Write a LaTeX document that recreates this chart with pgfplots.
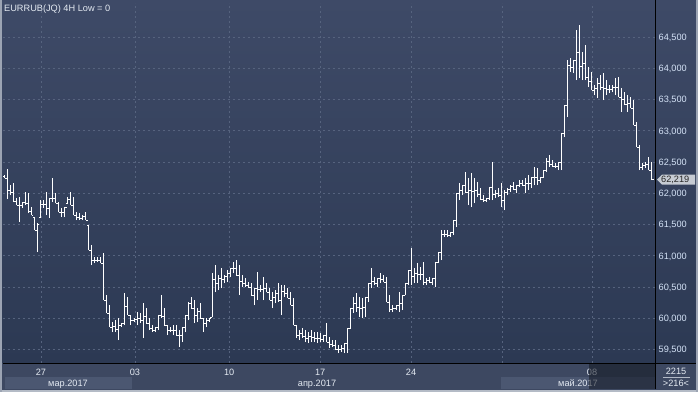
\documentclass[border=0pt]{standalone}
\usepackage{pgfplots}
\pgfplotsset{compat=1.18}
\usepackage{pgfplotstable}
\usepackage{fontspec}
\setmainfont{Liberation Sans}
\definecolor{bgtop}{HTML}{3E4A67}
\definecolor{bgbot}{HTML}{2C3953}
\definecolor{strip}{HTML}{3D4861}
\definecolor{stripbox}{HTML}{4B5771}
\definecolor{gridc}{HTML}{56637E}
\definecolor{ylab}{HTML}{D4E2F6}
\definecolor{xlab}{HTML}{E4EAF2}
\definecolor{framec}{HTML}{B4BBC6}
\definecolor{tagc}{HTML}{C6CBD3}

\pgfplotstableread{
h l o c
62.292 62.244 62.276 62.244
62.388 61.908 62.244 62.052
62.132 61.972 62.052 62.020
62.164 61.860 62.020 61.876
61.924 61.812 61.876 61.812
61.940 61.540 61.812 61.812
61.860 61.764 61.812 61.860
62.020 61.812 61.860 61.844
62.004 61.684 61.844 61.716
61.780 61.652 61.716 61.652
61.620 61.412 61.620 61.412
61.524 61.060 61.412 61.508
61.892 61.620 61.620 61.828
61.892 61.764 61.828 61.828
62.020 61.652 61.828 61.764
61.924 61.604 61.764 61.924
62.244 61.860 61.924 61.924
62.004 61.844 61.924 61.844
61.860 61.700 61.844 61.700
61.764 61.620 61.700 61.700
61.780 61.620 61.700 61.780
61.940 61.844 61.844 61.908
62.020 61.812 61.908 61.812
61.940 61.652 61.812 61.652
61.700 61.572 61.652 61.620
61.684 61.572 61.620 61.604
61.652 61.572 61.604 61.636
61.700 61.572 61.636 61.572
61.492 61.092 61.492 61.092
61.172 60.852 61.092 60.932
60.980 60.884 60.932 60.932
60.980 60.900 60.932 60.932
60.980 60.884 60.932 60.884
61.044 60.292 60.884 60.292
60.372 60.084 60.292 60.084
60.212 59.860 60.084 59.860
59.940 59.780 59.860 59.876
59.972 59.780 59.876 59.828
60.004 59.652 59.828 59.892
59.924 59.860 59.892 59.924
60.404 59.892 59.924 60.196
60.340 60.052 60.196 60.052
60.052 59.892 60.052 59.972
60.004 59.940 59.972 59.988
60.100 59.892 59.988 60.004
60.084 59.924 60.004 59.972
60.244 59.684 59.972 60.036
60.164 59.924 60.036 59.924
60.004 59.812 59.924 59.844
59.892 59.780 59.844 59.812
59.860 59.780 59.812 59.860
60.052 59.812 59.860 60.052
60.372 60.004 60.052 60.036
60.164 59.892 60.036 59.892
59.892 59.732 59.892 59.812
59.860 59.780 59.812 59.812
59.892 59.732 59.812 59.812
59.892 59.732 59.812 59.732
59.812 59.540 59.732 59.732
59.860 59.620 59.732 59.860
60.052 59.780 59.860 60.052
60.260 59.972 60.052 60.244
60.340 60.164 60.244 60.164
60.292 59.924 60.164 60.052
60.164 59.940 60.052 60.116
60.244 60.004 60.116 60.004
60.004 59.780 60.004 59.924
60.004 59.860 59.924 59.972
60.004 59.940 59.972 60.004
60.724 60.020 60.020 60.628
60.852 60.420 60.628 60.564
60.692 60.452 60.564 60.644
60.804 60.484 60.644 60.628
60.692 60.564 60.628 60.676
60.772 60.580 60.676 60.724
60.804 60.660 60.724 60.804
60.900 60.724 60.804 60.804
60.932 60.692 60.804 60.692
60.852 60.372 60.692 60.596
60.692 60.500 60.596 60.564
60.644 60.500 60.564 60.532
60.580 60.500 60.532 60.500
60.564 60.372 60.500 60.372
60.484 60.212 60.372 60.484
60.740 60.292 60.484 60.468
60.532 60.420 60.468 60.468
60.660 60.292 60.468 60.484
60.564 60.420 60.484 60.420
60.484 60.292 60.420 60.292
60.420 60.164 60.292 60.340
60.452 60.244 60.340 60.404
60.564 60.260 60.404 60.292
60.532 60.052 60.292 60.436
60.532 60.340 60.436 60.404
60.484 60.324 60.404 60.324
60.420 60.212 60.324 60.212
60.324 59.892 60.212 59.892
59.892 59.684 59.892 59.732
59.812 59.652 59.732 59.764
59.844 59.684 59.764 59.716
59.812 59.620 59.716 59.684
59.780 59.604 59.684 59.716
59.812 59.620 59.716 59.700
59.780 59.620 59.700 59.684
59.780 59.604 59.684 59.684
59.764 59.620 59.684 59.668
59.732 59.620 59.668 59.732
59.924 59.620 59.732 59.620
59.700 59.524 59.620 59.588
59.652 59.540 59.588 59.572
59.652 59.492 59.572 59.508
59.572 59.444 59.508 59.508
59.572 59.460 59.508 59.524
59.604 59.444 59.524 59.604
59.844 59.444 59.604 59.844
60.164 59.844 59.844 60.164
60.340 60.084 60.164 60.244
60.404 60.100 60.244 60.180
60.340 60.020 60.180 60.164
60.324 60.004 60.164 60.180
60.340 60.020 60.180 60.340
60.564 60.260 60.340 60.564
60.804 60.484 60.564 60.596
60.660 60.532 60.596 60.564
60.644 60.500 60.564 60.644
60.724 60.564 60.644 60.628
60.692 60.580 60.628 60.580
60.660 60.260 60.580 60.260
60.372 60.100 60.260 60.148
60.212 60.100 60.148 60.164
60.212 60.132 60.164 60.212
60.420 60.100 60.212 60.244
60.372 60.132 60.244 60.372
60.564 60.372 60.372 60.564
60.772 60.532 60.564 60.772
61.124 60.532 60.772 60.676
60.804 60.564 60.676 60.724
60.884 60.564 60.724 60.708
60.820 60.612 60.708 60.708
60.900 60.532 60.708 60.580
60.644 60.532 60.580 60.612
60.660 60.564 60.612 60.580
60.644 60.532 60.580 60.644
60.900 60.500 60.644 60.900
61.060 60.884 60.900 61.060
61.412 60.932 61.060 61.348
61.412 61.300 61.348 61.348
61.412 61.300 61.348 61.332
61.380 61.300 61.332 61.380
61.572 61.332 61.380 61.572
62.004 61.460 61.572 62.004
62.164 61.892 62.004 62.052
62.132 61.972 62.052 62.132
62.340 62.004 62.132 62.020
62.244 61.812 62.020 62.052
62.324 61.780 62.052 62.036
62.244 61.844 62.036 62.052
62.180 61.940 62.052 61.988
62.084 61.892 61.988 61.908
61.972 61.860 61.908 61.892
61.924 61.860 61.892 61.924
62.100 61.892 61.924 62.100
62.500 61.892 62.100 61.988
62.052 61.924 61.988 62.004
62.084 61.940 62.004 61.972
62.164 61.780 61.972 61.892
62.052 61.732 61.892 62.020
62.084 61.972 62.020 62.068
62.132 62.020 62.068 62.116
62.180 62.052 62.116 62.068
62.132 62.004 62.068 62.132
62.212 62.100 62.132 62.164
62.212 62.132 62.164 62.132
62.244 62.004 62.132 62.164
62.292 62.052 62.164 62.164
62.260 62.084 62.164 62.260
62.420 62.132 62.260 62.260
62.404 62.132 62.260 62.212
62.260 62.164 62.212 62.260
62.372 62.260 62.260 62.372
62.564 62.340 62.372 62.516
62.612 62.420 62.516 62.468
62.532 62.420 62.468 62.436
62.484 62.404 62.436 62.436
62.500 62.372 62.436 62.500
62.964 62.372 62.500 62.964
63.412 62.900 62.964 63.412
64.132 63.220 63.412 64.052
64.164 63.940 64.052 64.020
64.132 63.924 64.020 64.132
64.612 63.812 64.132 64.260
64.692 63.844 64.260 64.036
64.260 63.812 64.036 64.084
64.372 63.812 64.084 63.860
64.020 63.700 63.860 63.796
63.940 63.652 63.796 63.652
63.732 63.572 63.652 63.684
63.844 63.524 63.684 63.764
63.892 63.652 63.764 63.700
63.924 63.492 63.700 63.684
63.812 63.572 63.684 63.668
63.732 63.604 63.668 63.668
63.732 63.620 63.668 63.700
63.844 63.572 63.700 63.700
63.860 63.540 63.700 63.540
63.684 63.300 63.540 63.508
63.620 63.412 63.508 63.428
63.572 63.300 63.428 63.444
63.540 63.364 63.444 63.364
63.492 63.092 63.364 63.092
63.140 62.740 63.092 62.740
62.772 62.372 62.740 62.420
62.484 62.372 62.420 62.452
62.500 62.404 62.452 62.468
62.580 62.372 62.468 62.372
62.500 62.210 62.372 62.219
}\ohlc

\begin{document}
\fontsize{9.2}{11}\selectfont
\begin{tikzpicture}
\useasboundingbox (0pt,0pt) rectangle (698pt,392pt);
\shade[top color=bgtop, bottom color=bgbot] (0pt,29pt) rectangle (698pt,392pt);
\fill[strip] (0pt,0pt) rectangle (698pt,29pt);
\fill[stripbox] (5pt,3pt) rectangle (132pt,15pt);
\fill[stripbox] (501pt,3pt) rectangle (655pt,15pt);
\begin{axis}[
  at={(3pt,29pt)}, anchor=south west, scale only axis,
  width=652pt, height=360pt,
  xmin=-0.5, xmax=216, ymin=59.284, ymax=65.044,
  axis line style={draw=none},
  grid=major,
  major grid style={gridc, dash pattern=on 2pt off 3pt, line width=0.8pt},
  major tick length=0pt,
  xtick={12.1,43.3,74.6,104.8,135,165.2,195.1},
  xticklabels={27,03,10,17,24,,08},
  xticklabel style={text=xlab, anchor=base, yshift=-12.3pt, inner sep=0pt},
  ytick={59.5,60,60.5,61,61.5,62,62.5,63,63.5,64,64.5},
  yticklabel pos=right,
  yticklabel style={text=ylab, anchor=base west, inner sep=0pt, xshift=3.5pt, yshift=-3.3pt},
  /pgf/number format/.cd, fixed, fixed zerofill, precision=3, use comma, assume math mode=true,
]
\addplot[white, line width=1pt, mark=none, quiver={u=0, v=\thisrow{h}-\thisrow{l}}]
  table[x expr=\coordindex, y=l] {\ohlc};
\addplot[white, line width=1pt, mark=none, quiver={u=-0.6, v=0}]
  table[x expr=\coordindex, y=o] {\ohlc};
\addplot[white, line width=1pt, mark=none, quiver={u=0.6, v=0}]
  table[x expr=\coordindex, y=c] {\ohlc};
\coordinate (last) at (axis cs:216,62.219);
\end{axis}
% separators
\draw[black, line width=1pt] (655pt,3pt) -- (655pt,392pt);
\draw[black, line width=1pt] (3pt,29pt) -- (698pt,29pt);
% month labels
\node[text=xlab, inner sep=0pt, anchor=base] at (68pt,5.8pt) {мар.2017};
\node[text=xlab, inner sep=0pt, anchor=base] at (317pt,5.8pt) {апр.2017};
\node[text=xlab, inner sep=0pt, anchor=base] at (578pt,5.8pt) {май.2017};
\fill[black!60!bgbot, opacity=0.55] (589pt,3pt) rectangle (654.5pt,28.5pt);
% right bottom counter
\node[text=xlab, inner sep=0pt, anchor=base] at (676pt,17.7pt) {2215};
\draw[xlab!70!strip, line width=0.6pt] (663pt,14.5pt) -- (690pt,14.5pt);
\node[text=xlab, inner sep=0pt, anchor=base] at (676pt,5.8pt) {>216<};
% last price tag
\fill[tagc] ([xshift=2pt]last) -- ([xshift=7pt,yshift=5pt]last) -- ([xshift=40pt,yshift=5pt]last)
  -- ([xshift=40pt,yshift=-5pt]last) -- ([xshift=7pt,yshift=-5pt]last) -- cycle;
\node[text=black!85, inner sep=0pt, anchor=base west] at ([xshift=6pt,yshift=-3.3pt]last) {62,219};
% title
\node[text=xlab, inner sep=0pt, anchor=base west] at (4pt,380.5pt) {EURRUB(JQ) 4H Low = 0};
% frame
\fill[framec] (0pt,0pt) rectangle (698pt,2.5pt);
\fill[framec!80!bgtop] (0pt,0pt) rectangle (2pt,392pt);
\fill[framec!80!bgtop] (696pt,0pt) rectangle (698pt,392pt);
\end{tikzpicture}
\end{document}
